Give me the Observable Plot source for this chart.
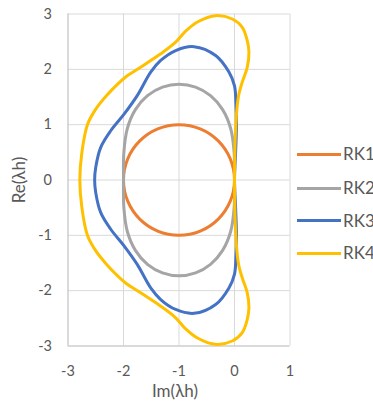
<!DOCTYPE html>
<html>
<head>
<meta charset="utf-8">
<script src="https://cdn.jsdelivr.net/npm/d3@7"></script>
<script src="https://cdn.jsdelivr.net/npm/@observablehq/plot@0.6"></script>
<style>
  html, body { margin: 0; padding: 0; background: #fff; }
  body { width: 373px; height: 405px; overflow: hidden; position: relative; font-family: Lato, "Liberation Sans", sans-serif; color: #595959; }
  #chart { position: absolute; left: 0; top: 0; }
  .title { position: absolute; font-size: 17px; line-height: 20px; white-space: nowrap; }
  #legend { position: absolute; left: 297px; top: 0; }
  .item { position: absolute; left: 0; height: 20px; width: 100px; }
  .swatch { position: absolute; left: 0; top: 8.5px; width: 44px; height: 3px; }
  .lab { position: absolute; left: 46px; top: 0px; font-size: 17px; line-height: 20px; }
</style>
</head>
<body>
<div id="chart"></div>
<div class="title" id="xt">Im(λh)</div>
<div class="title" id="yt">Re(λh)</div>
<div id="legend"></div>
<script>
// ---- data ----
const seriesNames = ["RK1", "RK2", "RK3", "RK4"];
const seriesColors = ["#ED7D31", "#A5A5A5", "#4472C4", "#FFC000"];
const xTicks = [-3, -2, -1, 0, 1];
const yTicks = [-3, -2, -1, 0, 1, 2, 3];

const rk1 = [[0,0],[-0.076,0.383],[-0.293,0.707],[-0.617,0.924],[-1,1],[-1.383,0.924],[-1.707,0.707],[-1.924,0.383],
  [-2,0],[-1.924,-0.383],[-1.707,-0.707],[-1.383,-0.924],[-1,-1],[-0.617,-0.924],[-0.293,-0.707],[-0.076,-0.383]];

const rk2 = [[0,0],[-0.007,0.504],[-0.069,0.931],[-0.214,1.272],[-0.432,1.524],[-0.702,1.679],[-1,1.732],[-1.298,1.679],
  [-1.568,1.524],[-1.786,1.272],[-1.931,0.931],[-1.993,0.504],[-2,0],[-1.993,-0.504],[-1.931,-0.931],[-1.786,-1.272],
  [-1.568,-1.524],[-1.298,-1.679],[-1,-1.732],[-0.702,-1.679],[-0.432,-1.524],[-0.214,-1.272],[-0.069,-0.931],[-0.007,-0.504]];

const rk3 = [[0,0],[0.02,0.5],[0.035,1.0],[0.025,1.4],[0,1.7],[-0.10,1.95],[-0.34,2.25],[-0.73,2.41],[-1.06,2.34],
  [-1.33,2.16],[-1.51,1.95],[-1.75,1.53],[-1.99,1.19],[-2.23,0.89],[-2.41,0.59],[-2.50,0.23],[-2.52,0],
  [-2.50,-0.23],[-2.41,-0.59],[-2.23,-0.89],[-1.99,-1.19],[-1.75,-1.53],[-1.51,-1.95],[-1.33,-2.16],[-1.06,-2.34],
  [-0.73,-2.41],[-0.34,-2.25],[-0.10,-1.95],[0,-1.7],[0.025,-1.4],[0.035,-1.0],[0.02,-0.5]];

const rk4 = [[0,0],[0.01,0.66],[0.04,1.25],[0.08,1.56],[0.14,1.77],[0.23,2.04],[0.26,2.31],[0.23,2.52],[0.14,2.76],
  [-0.04,2.91],[-0.34,2.97],[-0.66,2.86],[-0.88,2.69],[-1.06,2.49],[-1.33,2.28],[-1.75,2.0],[-1.95,1.87],[-2.3,1.53],
  [-2.52,1.25],[-2.65,1.0],[-2.75,0.5],[-2.787,0],
  [-2.75,-0.5],[-2.65,-1.0],[-2.52,-1.25],[-2.3,-1.53],[-1.95,-1.87],[-1.75,-2.0],[-1.33,-2.28],[-1.06,-2.49],
  [-0.88,-2.69],[-0.66,-2.86],[-0.34,-2.97],[-0.04,-2.91],[0.14,-2.76],[0.23,-2.52],[0.26,-2.31],[0.23,-2.04],
  [0.14,-1.77],[0.08,-1.56],[0.04,-1.25],[0.01,-0.66]];

const curves = [rk1, rk2, rk3, rk4];

// ---- chart ----
const marks = [
  Plot.gridX(xTicks, {stroke: "#d9d9d9", strokeOpacity: 1, strokeWidth: 1}),
  Plot.gridY(yTicks, {stroke: "#d9d9d9", strokeOpacity: 1, strokeWidth: 1}),
  Plot.ruleX([-3], {stroke: "#c8c8c8", strokeWidth: 1}),
  Plot.ruleY([-3], {stroke: "#c8c8c8", strokeWidth: 1}),
  Plot.axisX(xTicks, {tickSize: 0, tickPadding: 20, label: null, fontSize: 14.5, tickFormat: d => String(d)}),
  Plot.axisY(yTicks, {tickSize: 0, tickPadding: 16, label: null, fontSize: 14.5, tickFormat: d => String(d)})
];
curves.forEach((c, i) => {
  marks.push(Plot.line(c, {x: d => d[0], y: d => d[1], stroke: seriesColors[i], strokeWidth: 3,
    curve: "catmull-rom-closed"}));
});

const chart = Plot.plot({
  width: 373,
  height: 405,
  marginLeft: 67.5,
  marginRight: 83.5,
  marginTop: 13.5,
  marginBottom: 59.5,
  x: {domain: [-3, 1]},
  y: {domain: [-3, 3]},
  style: {fontFamily: "Lato, 'Liberation Sans', sans-serif", fontSize: "14.5px", color: "#595959", background: "white", overflow: "visible"},
  marks
});
document.getElementById("chart").appendChild(chart);

// axis titles
const xt = document.getElementById("xt");
xt.style.left = "175px"; xt.style.top = "381px"; xt.style.transform = "translateX(-50%)";
const yt = document.getElementById("yt");
yt.style.left = "19px"; yt.style.top = "180px"; yt.style.transform = "translate(-50%,-50%) rotate(-90deg)";

// legend
const legend = document.getElementById("legend");
const legendTops = [144, 178, 210.5, 243];
seriesNames.forEach((n, i) => {
  const it = document.createElement("div");
  it.className = "item";
  it.style.top = legendTops[i] + "px";
  it.innerHTML = `<div class="swatch" style="background:${seriesColors[i]}"></div><div class="lab">${n}</div>`;
  legend.appendChild(it);
});
</script>
</body>
</html>
